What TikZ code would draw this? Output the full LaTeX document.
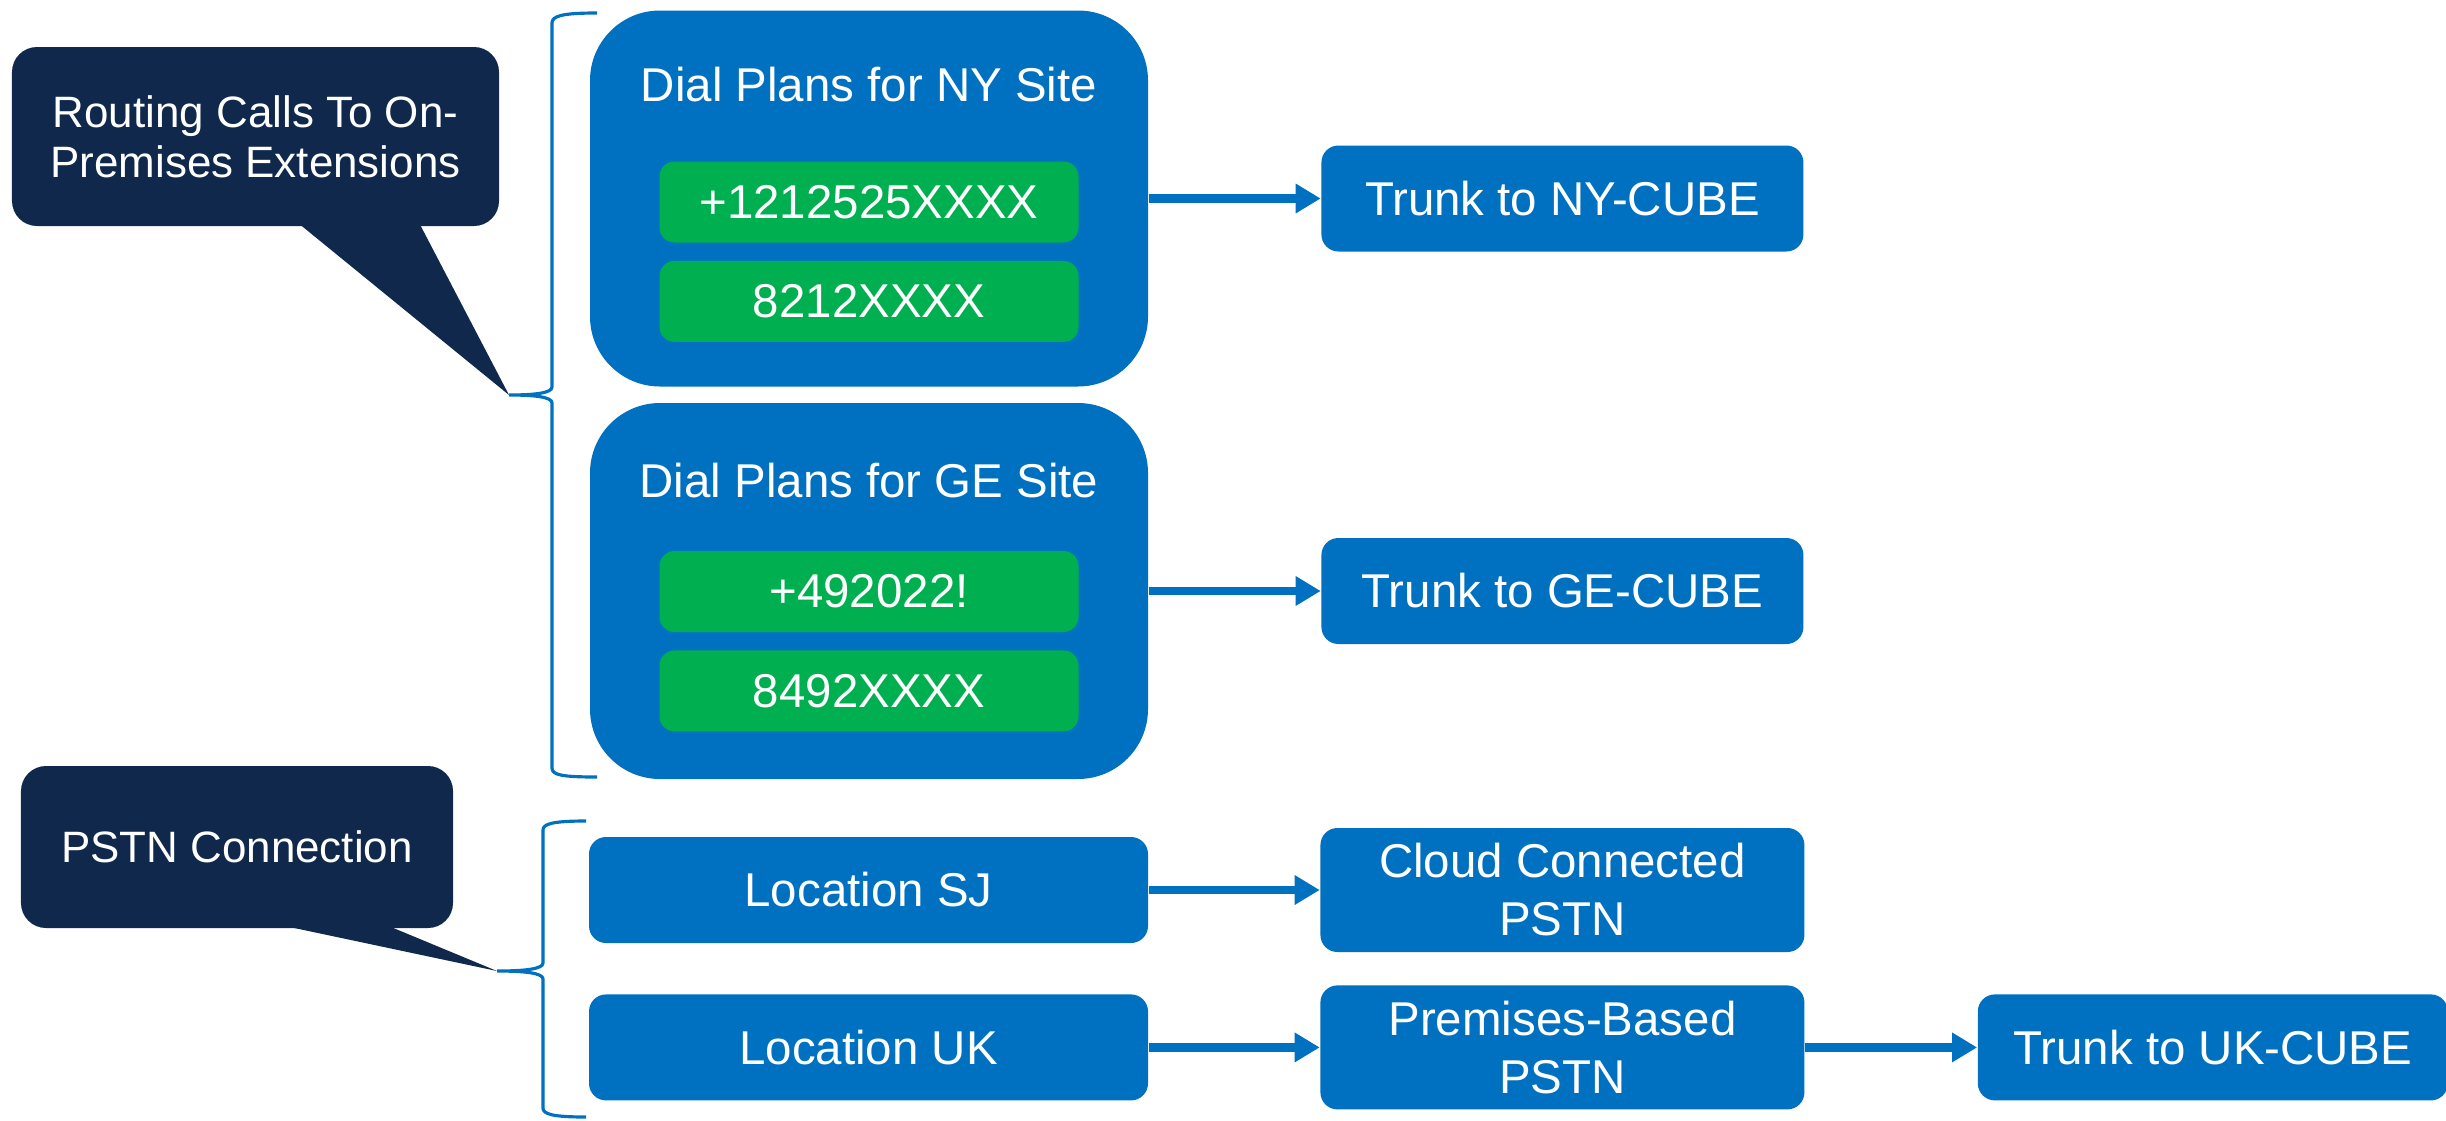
\documentclass[tikz,border=0pt]{standalone}
\usepackage{fontspec}
\setmainfont{Liberation Sans}
\usetikzlibrary{shapes, arrows.meta, positioning}
\definecolor{ciscoblue}{HTML}{0070C0}
\definecolor{dialgreen}{HTML}{00B050}
\definecolor{navy}{HTML}{10284C}

\begin{document}
\begin{tikzpicture}[node distance=0.17cm and 1.72cm,
	planbox/.style={fill=ciscoblue, rounded corners=0.7cm, minimum width=5.58cm, minimum height=3.76cm},
	numbox/.style={fill=dialgreen, rounded corners=0.15cm, minimum width=4.19cm, minimum height=0.81cm, text=white, font=\fontsize{13.5}{16.5}\selectfont},
	bluebox/.style={fill=ciscoblue, rounded corners=0.17cm, text=white, align=center, minimum height=1.06cm, font=\fontsize{13.5}{16.5}\selectfont},
	notebox/.style={fill=navy, rounded corners=0.25cm, text=white, align=center, font=\fontsize{12.5}{14.2}\selectfont},
	titletext/.style={text=white, inner sep=0pt, text height=0.34cm, text depth=0pt, font=\fontsize{13.5}{16.5}\selectfont},
	link/.style={ciscoblue, line width=2.5pt, -{Triangle[length=0.25cm,width=0.28cm]}},
	curly/.style={ciscoblue, line width=0.9pt}]
	\useasboundingbox (0,0) rectangle (24.46,-11.2);

	% dial plans
	\node[planbox] (ny) at (8.69,-1.985) {};
	\node[titletext, below=0.57cm of ny.north] (nytitle) {Dial Plans for NY Site};
	\node[numbox, below=1.51cm of ny.north] (ny1) {+1212525XXXX};
	\node[numbox, below=of ny1] (ny2) {8212XXXX};
	\node[planbox] (ge) at (8.69,-5.91) {};
	\node[titletext, below=0.6cm of ge.north] (getitle) {Dial Plans for GE Site};
	\node[numbox, below=1.48cm of ge.north] (ge1) {+492022!};
	\node[numbox, below=of ge1] (ge2) {8492XXXX};
	\node[bluebox, minimum width=4.82cm, right=of ny] (nycube) {Trunk to NY-CUBE};
	\node[bluebox, minimum width=4.82cm, right=of ge] (gecube) {Trunk to GE-CUBE};

	% locations
	\node[bluebox, minimum width=5.59cm] (sj) at (8.685,-8.9) {Location SJ};
	\node[bluebox, minimum width=5.59cm, below=0.5cm of sj] (uk) {Location UK};
	\node[bluebox, minimum width=4.84cm, minimum height=1.24cm, right=1.71cm of sj] (cloud) {Cloud Connected\\PSTN};
	\node[bluebox, minimum width=4.84cm, minimum height=1.24cm, right=1.71cm of uk] (prem) {Premises-Based\\PSTN};
	\node[bluebox, minimum width=4.7cm, right=of prem] (ukcube) {Trunk to UK-CUBE};

	\foreach \from/\to in {ny/nycube, ge/gecube, sj/cloud, uk/prem, prem/ukcube}
		\draw[link] (\from) -- (\to);

	% callouts and braces
	\node[notebox, minimum width=4.87cm, minimum height=1.79cm] (oncall) at (2.555,-1.365) {Routing Calls To On-\\Premises Extensions};
	\coordinate (ontip) at (5.09,-3.95);
	\fill[navy] ([xshift=0.41cm,yshift=0.05cm]oncall.south) -- (ontip) -- ([xshift=1.63cm,yshift=0.05cm]oncall.south) -- cycle;
	\draw[curly] (5.97,-0.13) .. controls (5.62,-0.13) and (5.52,-0.16) .. (5.52,-0.23) -- (5.52,-3.87)
		.. controls (5.52,-3.93) and (5.35,-3.95) .. (ontip) .. controls (5.35,-3.95) and (5.52,-3.97) .. (5.52,-4.03)
		-- (5.52,-7.68) .. controls (5.52,-7.75) and (5.62,-7.77) .. (5.97,-7.77);

	\node[notebox, minimum width=4.32cm, minimum height=1.62cm] (pstn) at (2.37,-8.47) {PSTN Connection};
	\coordinate (pstntip) at (4.97,-9.71);
	\fill[navy] ([xshift=0.37cm,yshift=0.05cm]pstn.south) -- (pstntip) -- ([xshift=1.46cm,yshift=0.05cm]pstn.south) -- cycle;
	\draw[curly] (5.86,-8.21) .. controls (5.52,-8.21) and (5.43,-8.24) .. (5.43,-8.3) -- (5.43,-9.63)
		.. controls (5.43,-9.69) and (5.25,-9.71) .. (pstntip) .. controls (5.25,-9.71) and (5.43,-9.73) .. (5.43,-9.79)
		-- (5.43,-11.08) .. controls (5.43,-11.14) and (5.52,-11.17) .. (5.86,-11.17);
\end{tikzpicture}
\end{document}
